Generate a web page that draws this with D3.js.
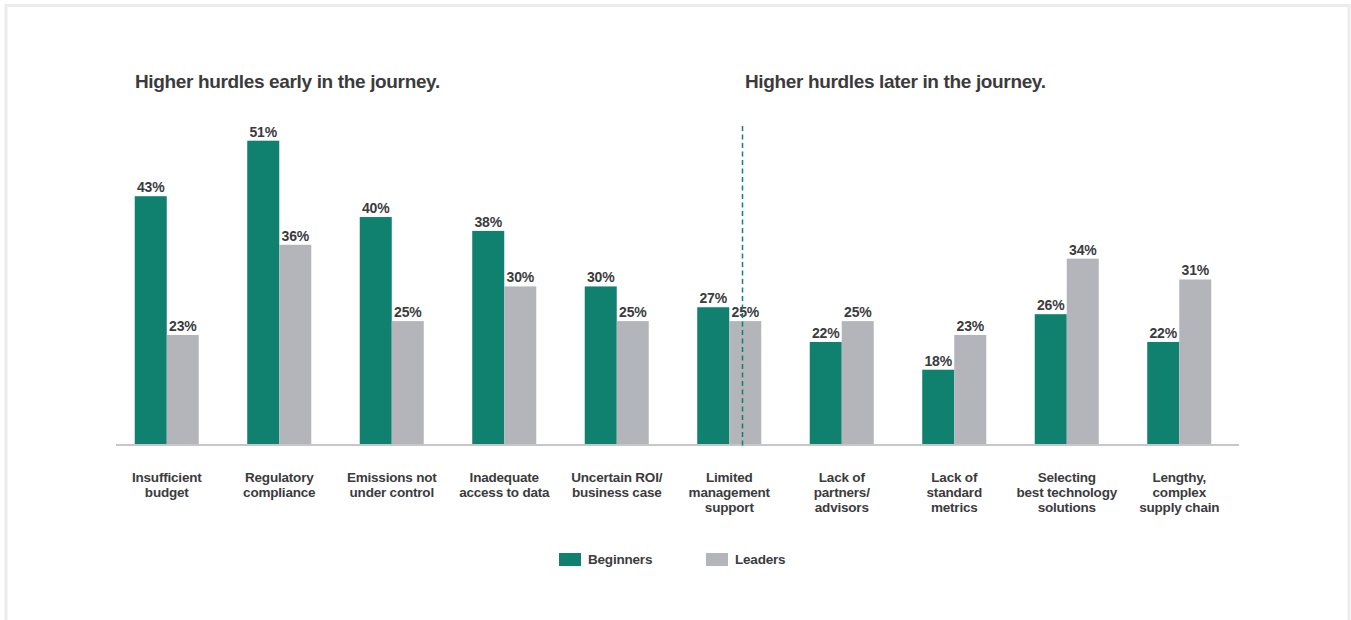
<!DOCTYPE html>
<html>
<head>
<meta charset="utf-8">
<script src="https://cdn.jsdelivr.net/npm/d3@7"></script>
<style>
  html, body { margin: 0; padding: 0; background: #fff; }
  svg { display: block; }
  text { font-family: "Liberation Sans", Arial, sans-serif; fill: #3b3b3d; }
</style>
</head>
<body>
<svg id="chart" width="1351" height="620"></svg>
<script>
const categories = [
  ["Insufficient", "budget"],
  ["Regulatory", "compliance"],
  ["Emissions not", "under control"],
  ["Inadequate", "access to data"],
  ["Uncertain ROI/", "business case"],
  ["Limited", "management", "support"],
  ["Lack of", "partners/", "advisors"],
  ["Lack of", "standard", "metrics"],
  ["Selecting", "best technology", "solutions"],
  ["Lengthy,", "complex", "supply chain"]
];
const seriesNames = ["Beginners", "Leaders"];
const beginners = [43, 51, 40, 38, 30, 27, 22, 18, 26, 22];
const leaders   = [23, 36, 25, 30, 25, 25, 25, 23, 34, 31];
const sectionTitles = ["Higher hurdles early in the journey.", "Higher hurdles later in the journey."];
const colors = ["#0f816e", "#b4b4bb"];

const svg = d3.select("#chart");

// frame
svg.append("rect").attr("x", 6).attr("y", 5.5).attr("width", 1343).attr("height", 700)
  .attr("fill", "none").attr("stroke", "#ececec").attr("stroke-width", 3);

const keys = categories.map(c => c.join(" "));
const x0 = d3.scaleBand().domain(keys).range([110.5, 1235.5])
  .paddingInner(0.431).paddingOuter(0.2155);
const x1 = d3.scaleBand().domain(seriesNames).range([0, x0.bandwidth()]);
const y = d3.scaleLinear().domain([7.15, 51]).range([445, 140.7]);

const data = keys.map((k, i) => ({ key: k, lines: categories[i], vals: [beginners[i], leaders[i]] }));

// bars
const g = svg.append("g").selectAll("g").data(data).join("g")
  .attr("transform", d => `translate(${x0(d.key)},0)`);
g.selectAll("rect").data(d => d.vals.map((v, j) => ({ v, s: seriesNames[j], j })))
  .join("rect")
  .attr("x", d => x1(d.s)).attr("width", x1.bandwidth())
  .attr("y", d => y(d.v)).attr("height", d => y.range()[0] - y(d.v))
  .attr("fill", d => colors[d.j]);
g.selectAll("text.val").data(d => d.vals.map((v, j) => ({ v, s: seriesNames[j], j })))
  .join("text").attr("class", "val")
  .attr("x", d => x1(d.s) + x1.bandwidth() / 2)
  .attr("y", d => y(d.v) - 4)
  .attr("text-anchor", "middle")
  .style("font-size", "14px").style("font-weight", "bold").style("letter-spacing", "-0.2px")
  .text(d => d.v + "%");

// baseline axis
const axis = d3.axisBottom(x0).tickSize(0).tickFormat("");
svg.append("g").attr("transform", "translate(0,445)").call(axis)
  .call(s => s.select(".domain").attr("d", "M116,0H1239").attr("stroke", "#c6c6cc").attr("stroke-width", 2));

// category labels
const cl = svg.append("g").selectAll("text").data(data).join("text")
  .attr("text-anchor", "middle")
  .style("font-size", "13.5px").style("font-weight", "bold").style("letter-spacing", "-0.2px");
cl.selectAll("tspan").data(d => d.lines.map(l => ({ l, x: x0(d.key) + x0.bandwidth() / 2 })))
  .join("tspan")
  .attr("x", d => d.x)
  .attr("y", (d, i) => 482 + i * 15)
  .text(d => d.l);

// divider
svg.append("line").attr("x1", 742.5).attr("x2", 742.5).attr("y1", 126).attr("y2", 446)
  .attr("stroke", "#0f816e").attr("stroke-width", 1.5).attr("stroke-dasharray", "5,3.5");

// section titles
svg.selectAll("text.title").data(sectionTitles).join("text").attr("class", "title")
  .attr("x", (d, i) => i === 0 ? 135 : 745).attr("y", 88)
  .style("font-size", "19px").style("font-weight", "bold").style("letter-spacing", "-0.35px")
  .text(d => d);

// legend
const lg = svg.append("g").selectAll("g").data(seriesNames).join("g")
  .attr("transform", (d, i) => `translate(${559 + i * 147},553)`);
lg.append("rect").attr("width", 22).attr("height", 13).attr("fill", (d, i) => colors[i]);
lg.append("text").attr("x", 29).attr("y", 11)
  .style("font-size", "13.5px").style("font-weight", "bold").style("letter-spacing", "-0.2px")
  .text(d => d);
</script>
</body>
</html>
